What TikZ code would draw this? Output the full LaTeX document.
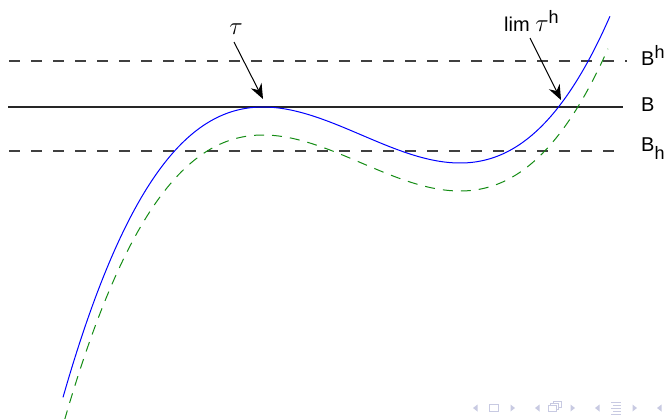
\documentclass[tikz,border=0pt]{standalone}
\usepackage{fontspec}
\setmainfont{Liberation Sans}
\usetikzlibrary{arrows.meta}
\definecolor{navcol}{RGB}{200,202,226}
\definecolor{curvegreen}{RGB}{20,140,20}
\begin{document}
\begin{tikzpicture}[x=1pt,y=-1pt,
  level/.style={line width=1.1pt,black!85},
  dashlevel/.style={line width=1.1pt,black!75,dash pattern=on 11pt off 11pt},
  bluecurve/.style={blue,line width=1pt},
  greencurve/.style={curvegreen,line width=1pt,dash pattern=on 10pt off 8pt},
  lab/.style={font=\fontsize{20}{24}\selectfont,inner sep=0pt},
  pointer/.style={line width=1pt,-{Stealth[length=15pt,width=12pt,inset=5pt]}},
  nav/.style={fill=navcol,draw=none},
  navline/.style={draw=navcol,line width=1pt}]
\useasboundingbox (0,0) rectangle (667,418);
% levels
\draw[dashlevel] (9,61) -- (627,61);
\draw[level] (8,107) -- (623,107);
\draw[dashlevel] (9,151) -- (614,151);
% curves
\draw[bluecurve] plot[domain=-2.0:3.47,samples=120,smooth]
  ({263+100*\x},{107-43.948*(\x*\x*\x/3-0.985*\x*\x)});
\draw[greencurve] plot[domain=-1.985:3.45,samples=120,smooth]
  ({263+100*\x},{135-43.948*(\x*\x*\x/3-0.985*\x*\x)});
% labels
\node[lab,anchor=west] (Bup) at (641,55) {B\raisebox{7pt}{\fontsize{18}{18}\selectfont h}};
\node[lab,anchor=west] (B) at (641,104.5) {B};
\node[lab,anchor=west] (Blow) at (641,149) {B\raisebox{-8pt}{\fontsize{18}{18}\selectfont h}};
\node[lab,font=\fontsize{25}{28}\selectfont] (tau) at (236,29) {$\tau$};
\node[lab,anchor=base west] (limtau) at (504,31) {lim {\fontsize{25}{28}\selectfont$\tau$}\raisebox{8pt}{\fontsize{18}{18}\selectfont h}};
\coordinate (tauTail) at (234,42);
\coordinate (tauTip) at (263,99);
\coordinate (limTail) at (530,38);
\coordinate (limTip) at (561,100);
\draw[pointer] (tauTail) -- (tauTip);
\draw[pointer] (limTail) -- (limTip);
% navigation symbols
\fill[nav] (477.5,404.5) -- (473,408) -- (477.5,411.5) -- cycle;
\draw[navline] (489,404.5) rectangle (498,411.5);
\fill[nav] (510.5,404.5) -- (515,408) -- (510.5,411.5) -- cycle;
\fill[nav] (539.5,404.5) -- (535,408) -- (539.5,411.5) -- cycle;
\draw[navline] (553,401.5) rectangle (561,407.5);
\draw[navline,fill=white] (550.5,403.5) rectangle (558.5,409.5);
\draw[navline,fill=white] (548,405.5) rectangle (556,411.5);
\fill[nav] (570.5,404.5) -- (575,408) -- (570.5,411.5) -- cycle;
\fill[nav] (599.5,404.5) -- (595,408) -- (599.5,411.5) -- cycle;
\draw[navline] (611,402) -- (621,402);
\draw[navline] (613,405) -- (621,405);
\draw[navline] (611,408) -- (621,408);
\draw[navline] (613,411) -- (621,411);
\draw[navline] (611,414) -- (621,414);
\fill[nav] (632.5,404.5) -- (637,408) -- (632.5,411.5) -- cycle;
\fill[nav] (661.5,404.5) -- (657,408) -- (661.5,411.5) -- cycle;
\end{tikzpicture}
\end{document}
